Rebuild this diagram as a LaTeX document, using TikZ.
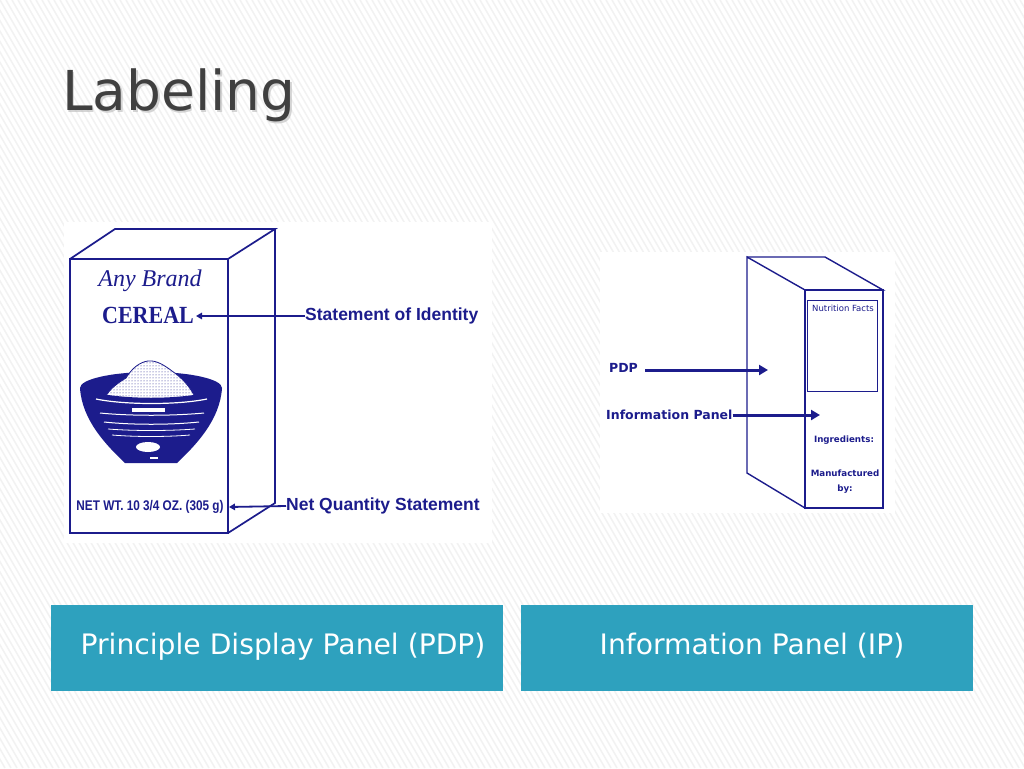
\documentclass[tikz,border=0pt]{standalone}
\usepackage{fontspec}
\setmainfont{Liberation Sans}
\newfontfamily\dejavu{DejaVu Sans}
\newfontfamily\serifnr{Liberation Serif}
\usetikzlibrary{arrows.meta,patterns}
\definecolor{navyink}{RGB}{28,28,140}
\definecolor{panelblue}{RGB}{46,161,190}
\definecolor{titlegray}{RGB}{64,64,64}
\definecolor{stripe}{RGB}{242,242,242}
\tikzset{
  boxline/.style={draw=navyink, line width=1.7pt, line join=miter},
  thinbox/.style={draw=navyink, line width=1.4pt},
  arrowL/.style={draw=navyink, line width=1.8pt, -{Triangle[length=6pt,width=6.5pt]}},
  arrowR/.style={draw=navyink, line width=3pt, -{Triangle[length=9pt,width=10pt]}},
  lbl/.style={text=navyink, inner sep=0pt, font=\bfseries\fontsize{17.5}{18}\selectfont},
  rlbl/.style={text=navyink, inner sep=0pt, font=\dejavu\bfseries\fontsize{12.5}{13}\selectfont},
  panelbox/.style={fill=panelblue, draw=none, minimum width=452pt, minimum height=86pt, inner sep=0pt},
  paneltext/.style={text=white, inner sep=0pt, font=\dejavu\fontsize{28.2}{30}\selectfont},
}
\begin{document}
\begin{tikzpicture}[x=1pt,y=-1pt]
\useasboundingbox (0,0) rectangle (1024,768);
% background with faint stripes
\fill[white] (0,0) rectangle (1024,768);
\begin{scope}
\clip (0,0) rectangle (1024,768);
\foreach \s in {-450,-444,...,1030} {
  \draw[stripe, line width=1.5pt] (\s,0) -- ++(443,768);
}
\end{scope}
% title
\node[anchor=base west, inner sep=0pt, text=gray!55, opacity=0.6, font=\dejavu\fontsize{55}{55}\selectfont] (titleshadow) at (63.5,112) {Labeling};
\node[anchor=base west, inner sep=0pt, text=titlegray, font=\dejavu\fontsize{55}{55}\selectfont] (title) at (62,110) {Labeling};

% picture backgrounds
\fill[white] (64,222) rectangle (492,543);
\fill[white] (600,252) rectangle (895,513);

% ---------- left cereal box ----------
\draw[boxline] (70,259) rectangle (228,533);
\draw[boxline] (70,259) -- (115,229) -- (275,229) -- (228,259);
\draw[boxline] (275,229) -- (275,503) -- (228,533);

\node[text=navyink, inner sep=0pt, font=\serifnr\itshape\fontsize{24}{24}\selectfont] (brand) at (150,281) {Any Brand};
\node[text=navyink, inner sep=0pt, font=\serifnr\bfseries\fontsize{22}{22}\selectfont] (cereal) at (148,315) {\scalebox{1}[1.12]{CEREAL}};
\node[text=navyink, inner sep=0pt, font=\bfseries\fontsize{14}{14}\selectfont] (netwt) at (150,507) {\scalebox{0.84}[1]{NET WT. 10 3/4 OZ. (305 g)}};

% bowl
\fill[navyink] (151,388) ellipse [x radius=71, y radius=16];
\filldraw[navyink, fill=white, line width=0.8pt] (104,399) .. controls (110,388) and (118,383) .. (126,378)
   .. controls (132,368) and (140,362) .. (148,361) .. controls (156,360) and (164,365) .. (172,371)
   .. controls (182,378) and (190,386) .. (196,399) -- cycle;
\fill[pattern=dots, pattern color=navyink] (104,399) .. controls (110,388) and (118,383) .. (126,378)
   .. controls (132,368) and (140,362) .. (148,361) .. controls (156,360) and (164,365) .. (172,371)
   .. controls (182,378) and (190,386) .. (196,399) -- cycle;
\fill[navyink] (80,388) .. controls (110,401) and (192,401) .. (222,388)
   .. controls (220,420) and (196,445) .. (177,463) -- (125,463)
   .. controls (106,445) and (82,420) .. cycle;
\draw[white, line width=1.2pt] (96,399) .. controls (125,405) and (178,405) .. (207,399);
\draw[white, line width=1pt] (100,413) .. controls (130,416) and (172,416) .. (204,413);
\draw[white, line width=1pt] (104,422) .. controls (132,425) and (170,425) .. (199,422);
\draw[white, line width=0.8pt] (108,429) .. controls (134,431) and (168,431) .. (195,429);
\draw[white, line width=0.8pt] (112,435) .. controls (136,437) and (166,437) .. (190,435);
\fill[white] (148,447) ellipse [x radius=12, y radius=5];
\fill[white] (132,408) rectangle (165,412);
\fill[white] (150,457) rectangle (158,459);

% labels and arrows
\node[lbl, anchor=west] (soi) at (305,316) {Statement of Identity};
\coordinate (soitip) at (196,316);
\draw[arrowL] (soi.west) -- (soitip);
\node[lbl, anchor=west] (nqs) at (286,506) {Net Quantity Statement};
\coordinate (nqstip) at (229,507);
\draw[arrowL] (nqs.west) -- (nqstip);

% ---------- right box ----------
\draw[thinbox] (747,257) -- (805,290) -- (805,508) -- (747,473) -- cycle;
\draw[thinbox] (747,257) -- (825,257) -- (883,290) -- (805,290);
\draw[thinbox] (805,290) rectangle (883,508);
\draw[thinbox, line width=1pt] (807.5,300) rectangle (877.5,391);
\node[text=navyink, inner sep=0pt, font=\dejavu\fontsize{8.5}{9}\selectfont] (nf) at (843,308) {Nutrition Facts};
\node[text=navyink, inner sep=0pt, font=\dejavu\bfseries\fontsize{8.7}{9}\selectfont] (ingr) at (844,440) {Ingredients:};
\node[text=navyink, inner sep=0pt, font=\dejavu\bfseries\fontsize{8.7}{9}\selectfont] (manu) at (845,473) {Manufactured};
\node[text=navyink, inner sep=0pt, font=\dejavu\bfseries\fontsize{8.7}{9}\selectfont] (by) at (845,489) {by:};

\node[rlbl, anchor=west] (pdpl) at (609,368) {PDP};
\coordinate (pdptip) at (768,370);
\draw[arrowR] (645,370) -- (pdptip);
\node[rlbl, anchor=west] (ipl) at (606,415) {Information Panel};
\coordinate (iptip) at (820,415);
\draw[arrowR] (ipl.east) -- (iptip);

% ---------- bottom panels ----------
\node[panelbox] (leftpanel) at (277,648) {};
\node[panelbox] (rightpanel) at (746.5,648) {};
\node[paneltext] (lefttext) at (283,647) {Principle Display Panel (PDP)};
\node[paneltext] (righttext) at (752,646) {Information Panel (IP)};
\end{tikzpicture}
\end{document}
